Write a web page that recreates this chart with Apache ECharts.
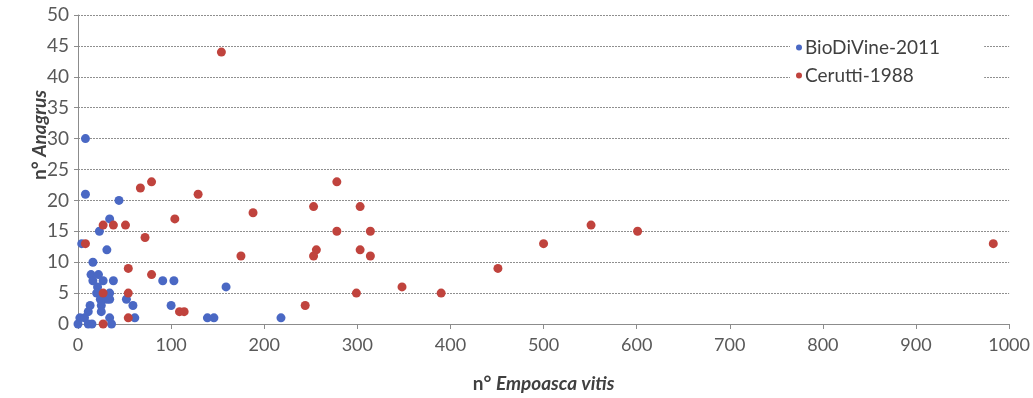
<!DOCTYPE html>
<html>
<head>
<meta charset="utf-8">
<script src="https://cdn.jsdelivr.net/npm/echarts@6/dist/echarts.min.js"></script>
<style>
  html, body { margin: 0; padding: 0; background: #fff; }
  #chart { width: 1033px; height: 398px; }
</style>
</head>
<body>
<div id="chart"></div>
<script>
// n° Empoasca vitis (x) vs n° Anagrus (y)
const seriesNames = ['BioDiVine-2011', 'Cerutti-1988'];

const bioDiVine = [
  [8, 30], [8, 21], [44, 20], [34, 17], [23, 15], [4, 13], [31, 12], [16, 10],
  [14, 8], [22, 8], [16, 7], [27, 7], [38, 7], [21, 6], [20, 5], [34, 5],
  [24, 4], [34, 4], [31, 4], [13, 3], [25, 3], [11, 2], [25, 2], [2, 1],
  [7, 1], [34, 1], [0, 0], [11, 0], [15, 0], [36, 0], [91, 7], [103, 7],
  [159, 6], [52, 4], [59, 3], [100, 3], [61, 1], [139, 1], [146, 1], [218, 1]
];

const cerutti = [
  [154, 44], [67, 22], [79, 23], [129, 21], [104, 17], [188, 18], [27, 16], [38, 16],
  [51, 16], [8, 13], [72, 14], [175, 11], [253, 19], [278, 23], [303, 19], [278, 15],
  [314, 15], [256, 12], [253, 11], [303, 12], [314, 11], [299, 5], [348, 6], [244, 3],
  [390, 5], [451, 9], [500, 13], [551, 16], [601, 15], [983, 13], [54, 9], [79, 8],
  [27, 5], [54, 5], [109, 2], [114, 2], [27, 0], [54, 1]
];

const xTicks = { min: 0, max: 1000, interval: 100 };
const yTicks = { min: 0, max: 50, interval: 5 };

const font = 'Lato, "Open Sans", sans-serif';
const chart = echarts.init(document.getElementById('chart'));

chart.setOption({
  animation: false,
  backgroundColor: '#fff',
  grid: { left: 78, right: 22, top: 15, bottom: 73 },
  legend: {
    data: seriesNames,
    orient: 'vertical',
    left: 790,
    top: 36,
    itemGap: 9,
    icon: 'circle',
    itemWidth: 6,
    itemHeight: 6,
    backgroundColor: '#fff',
    padding: [2, 44, 2, 6],
    textStyle: { fontFamily: font, fontSize: 19, color: '#404040', padding: [0, 0, 0, -2] }
  },
  xAxis: {
    type: 'value',
    min: xTicks.min, max: xTicks.max, interval: xTicks.interval,
    name: '{a|n° }{b|Empoasca vitis}',
    nameLocation: 'middle',
    nameGap: 50,
    nameTextStyle: {
      rich: {
        a: { fontFamily: font, fontSize: 19, fontWeight: 'bold', color: '#404040' },
        b: { fontFamily: font, fontSize: 19, fontWeight: 'bold', fontStyle: 'italic', color: '#404040' }
      }
    },
    axisLine: { show: true, lineStyle: { color: '#8c8c8c', width: 1 } },
    axisTick: { show: true, inside: false, length: 5, lineStyle: { color: '#8c8c8c' } },
    axisLabel: { fontFamily: font, fontSize: 18, color: '#595959', margin: 12, formatter: v => String(v) },
    splitLine: { show: false }
  },
  yAxis: {
    type: 'value',
    min: yTicks.min, max: yTicks.max, interval: yTicks.interval,
    axisLine: { show: true, lineStyle: { color: '#8c8c8c', width: 1 } },
    axisTick: { show: true, length: 4, lineStyle: { color: '#8c8c8c' } },
    axisLabel: { fontFamily: font, fontSize: 19, color: '#595959', margin: 9 },
    splitLine: { show: true, lineStyle: { color: '#8f8f8f', width: 1, type: [2, 1] } }
  },
  graphic: [{
    type: 'text',
    x: 40,
    y: 135,
    rotation: Math.PI / 2,
    style: {
      text: '{a|n° }{b|Anagrus}',
      align: 'center',
      verticalAlign: 'middle',
      rich: {
        a: { fontFamily: font, fontSize: 19, fontWeight: 'bold', fill: '#404040' },
        b: { fontFamily: font, fontSize: 19, fontWeight: 'bold', fontStyle: 'italic', fill: '#404040' }
      }
    }
  }],
  series: [
    {
      name: seriesNames[0],
      type: 'scatter',
      data: bioDiVine,
      symbolSize: 9,
      itemStyle: { color: '#4a68c4', opacity: 1 },
      z: 2
    },
    {
      name: seriesNames[1],
      type: 'scatter',
      data: cerutti,
      symbolSize: 9,
      itemStyle: { color: '#c0433d', opacity: 1 },
      z: 3
    }
  ]
});
</script>
</body>
</html>
